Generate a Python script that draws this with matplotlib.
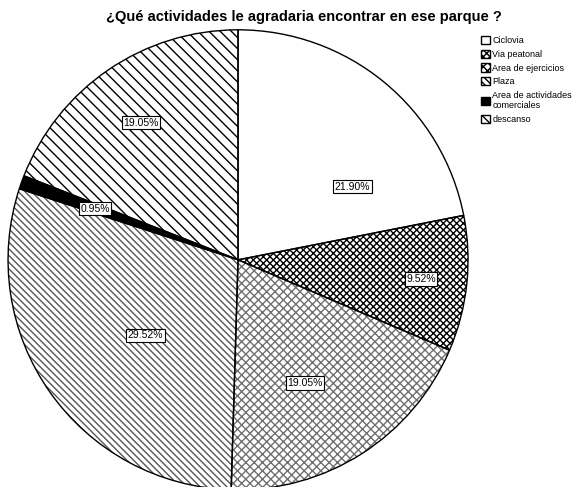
import numpy as np
import matplotlib
matplotlib.use('Agg')
import matplotlib.pyplot as plt
from matplotlib.patches import Patch

plt.rcParams['font.family'] = ['Liberation Sans', 'DejaVu Sans']
plt.rcParams['hatch.linewidth'] = 1.0

# data
categories = ['Ciclovia', 'Via peatonal', 'Area de ejercicios', 'Plaza',
              'Area de actividades\ncomerciales', 'descanso']
counts = [46, 20, 40, 62, 2, 40]

# styles
hatches = [None, 'xxxxx', 'xxxx', '\\\\\\\\\\', None, '\\\\\\']
hatch_colors = ['white', 'black', '#707070', '#555555', 'black', 'black']
face_colors = ['white', 'white', 'white', 'white', 'black', 'white']
label_radius = [0.59, 0.80, 0.61, 0.52, 0.66, 0.73]
label_shift = [-18, 0, -4, 4, 0, 1]

fig = plt.figure(figsize=(5.75, 4.87), dpi=100)
ax = fig.add_axes([0.014, -0.006, 0.8, 0.945])

total = sum(counts)
wedges, texts = ax.pie(counts, startangle=90, counterclock=False, radius=1,
                       wedgeprops=dict(linewidth=0))
for w, h, hc, fc in zip(wedges, hatches, hatch_colors, face_colors):
    w.set_facecolor(fc)
    w.set_edgecolor(hc)
    if h:
        w.set_hatch(h)

# outlines
outl, _ = ax.pie(counts, startangle=90, counterclock=False, radius=1,
                 wedgeprops=dict(fill=False, edgecolor='black', linewidth=1.0))

# percentage labels
for w, c, r, s in zip(wedges, counts, label_radius, label_shift):
    ang = np.deg2rad((w.theta1 + w.theta2) / 2 + s)
    ax.text(r * np.cos(ang), r * np.sin(ang), '%.2f%%' % (100.0 * c / total),
            ha='center', va='center', fontsize=7.5,
            bbox=dict(boxstyle='square,pad=0.15', fc='white', ec='black', lw=0.8))

ax.set_xlim(-1, 1)
ax.set_ylim(-1, 1)
ax.set_aspect('equal')
ax.axis('off')

handles = [Patch(facecolor=fc, edgecolor='black', hatch=h)
           for fc, h in zip(face_colors, hatches)]
fig.legend(handles, categories, loc='upper left', bbox_to_anchor=(0.828, 0.935),
           frameon=False, fontsize=6.5, handlelength=1.0, handleheight=1.0,
           handletextpad=0.3, labelspacing=0.5, borderpad=0)

fig.text(0.529, 0.965, '¿Qué actividades le agradaria encontrar en ese parque ?',
         ha='center', va='center', fontsize=10.5, fontweight='bold')

fig.savefig('out.png', dpi=100)
